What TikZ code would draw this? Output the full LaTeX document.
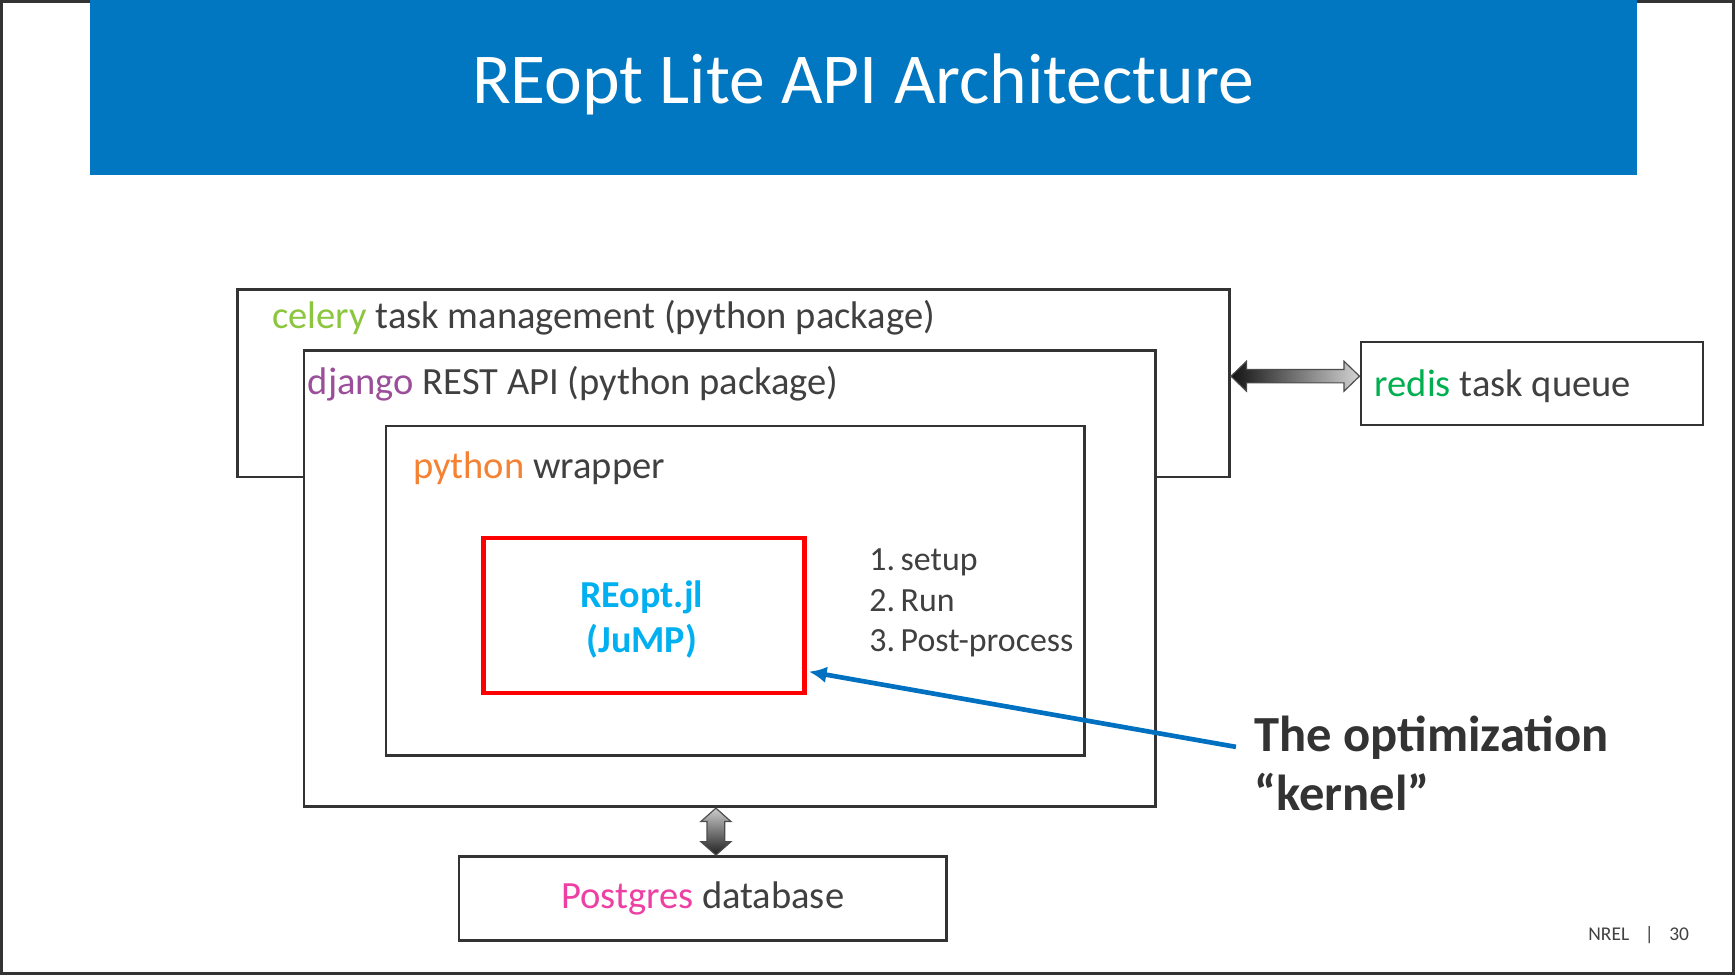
\documentclass[tikz,border=0pt]{standalone}
\usepackage{fontspec}
\setmainfont{Carlito}
\usetikzlibrary{arrows.meta,positioning,calc}
\definecolor{nrelblue}{HTML}{0077C0}
\definecolor{arrowblue}{HTML}{0070C0}
\definecolor{txtgray}{HTML}{404040}
\definecolor{linegray}{HTML}{333333}
\definecolor{celerygreen}{HTML}{8CC63F}
\definecolor{djangopurple}{HTML}{9B4F9B}
\definecolor{pyorange}{HTML}{F58232}
\definecolor{redisgreen}{HTML}{00B050}
\definecolor{pgpink}{HTML}{EE3FA3}
\definecolor{juliacyan}{HTML}{00B0F0}
\begin{document}
\begin{tikzpicture}[x=0.01cm,y=-0.01cm,
box/.style={
rectangle,
draw=linegray,
line width=0.7pt,
fill=white,
inner sep=0pt
},
lbl/.style={inner sep=0pt,text=txtgray,font=\fontsize{9.9}{10.4}\selectfont},
blockarrow/.style={draw=gray!60!black,line width=0.3pt},
to/.style={-{Latex[length=0.16cm,width=0.15cm]},draw=arrowblue,line width=1.2pt},]

\useasboundingbox (0,0) rectangle (1568,881);
\draw[linegray,line width=0.8pt] (1,1) rectangle (1567,880);
\fill[nrelblue] (81,0) rectangle (1479,158);
\node (title) at (780,76) [text=white,font=\fontsize{18.4}{20}\selectfont] {REopt Lite API Architecture};

\node (celery) [box,minimum width=8.96cm,minimum height=1.69cm] at (663,346.5) {};
\node (django) [box,minimum width=7.69cm,minimum height=4.12cm] at (659.5,523) {};
\node (wrapper) [box,minimum width=6.31cm,minimum height=2.98cm] at (664.5,534) {};
\node (reopt) [box,draw=red,line width=1.1pt,minimum width=2.9cm,minimum height=1.4cm] at (582,556) {};
\node (reoptlbl) [align=center,inner sep=0pt,font=\fontsize{9.8}{11.7}\selectfont\bfseries,text=juliacyan]
at ([shift={(-2,4)}]reopt.center) {REopt.jl\\(JuMP)};
\node (redis) [box,minimum width=3.09cm,minimum height=0.75cm] at (1384.5,346.5) {};
\node (postgres) [box,minimum width=4.4cm,minimum height=0.76cm,
font=\fontsize{9.9}{10.4}\selectfont,text=txtgray] at (635,812) {\textcolor{pgpink}{Postgres} database};

\node (celerylbl) [lbl,anchor=base west] at ([shift={(32,36)}]celery.north west) {\textcolor{celerygreen}{celery} task management (python package)};
\node (djangolbl) [lbl,anchor=base west] at ([shift={(4,41)}]django.north west) {\textcolor{djangopurple}{django} REST API (python package)};
\node (wrapperlbl) [lbl,anchor=base west] at ([shift={(25,49)}]wrapper.north west) {\textcolor{pyorange}{python} wrapper};
\node (redislbl) [lbl,anchor=base west] at ([shift={(13,51)}]redis.north west) {\textcolor{redisgreen}{redis} task queue};
\node (steps) [lbl,anchor=west,align=left,font=\fontsize{8.7}{10.4}\selectfont] at (785,545) {1.\,setup\\2.\,Run\\3.\,Post-process};
\node (kernel) [anchor=west,align=left,inner sep=0pt,text=linegray,
font=\fontsize{13}{15}\selectfont\bfseries] at (1133,690) {The optimization\\“kernel”};
\node (nrel) [text=txtgray,font=\fontsize{5}{6}\selectfont] at (1481,845) {NREL\hspace{0.8em}|\hspace{0.8em}30};

\coordinate (qL) at ([yshift=0.065cm]celery.east);
\coordinate (qR) at ([yshift=0.065cm]redis.west);
\shade[blockarrow,left color=gray!15!black,right color=gray!35] (qL) -- ($(qL)+(14,-13.5)$) -- ($(qL)+(14,-6)$) -- ($(qR)+(-14,-6)$)
-- ($(qR)+(-14,-13.5)$) -- (qR) -- ($(qR)+(-14,13.5)$) -- ($(qR)+(-14,6)$) -- ($(qL)+(14,6)$) -- ($(qL)+(14,13.5)$) -- cycle;

\coordinate (dT) at (django.south -| 647,0);
\coordinate (dB) at (postgres.north -| 647,0);
\shade[blockarrow,top color=gray!40,bottom color=gray!25!black] (dT) -- ($(dT)+(13.5,12)$) -- ($(dT)+(8,12)$) -- ($(dB)+(8,-12)$)
-- ($(dB)+(13.5,-12)$) -- (dB) -- ($(dB)+(-13.5,-12)$) -- ($(dB)+(-8,-12)$) -- ($(dT)+(-8,12)$) -- ($(dT)+(-13.5,12)$) -- cycle;

\draw[to] ($(kernel.west)+(-16,-15)$) -- ($(reopt.east)+(2,51)$);
\end{tikzpicture}
\end{document}
